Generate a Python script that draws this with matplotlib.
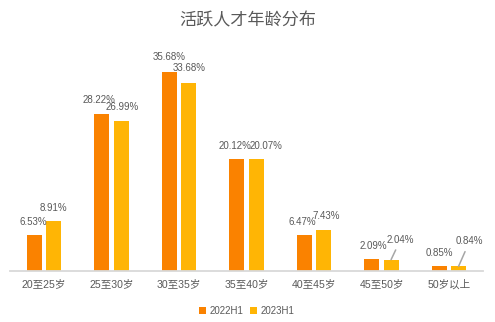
import matplotlib
matplotlib.use("Agg")
import matplotlib.pyplot as plt
import numpy as np

plt.rcParams['font.family'] = ['Liberation Sans', 'Noto Sans CJK SC', 'DejaVu Sans']

categories = ['20至25岁', '25至30岁', '30至35岁', '35至40岁', '40至45岁', '45至50岁', '50岁以上']
series_names = ['2022H1', '2023H1']
v2022 = [6.53, 28.22, 35.68, 20.12, 6.47, 2.09, 0.85]
v2023 = [8.91, 26.99, 33.68, 20.07, 7.43, 2.04, 0.84]
labels2022 = ['6.53%', '28.22%', '35.68%', '20.12%', '6.47%', '2.09%', '0.85%']
labels2023 = ['8.91%', '26.99%', '33.68%', '20.07%', '7.43%', '2.04%', '0.84%']

c_orange = '#FA8200'
c_yellow = '#FFB505'
txt = '#595959'

W, H = 495, 322
fig = plt.figure(figsize=(W / 100, H / 100), dpi=100)
ax = fig.add_axes([10.25 / W, 51 / H, 472.5 / W, 222.8 / H])

x = np.arange(len(categories))
bw = 0.222
off = 0.142
ax.bar(x - off, v2022, bw, color=c_orange, label=series_names[0], zorder=2)
ax.bar(x + off, v2023, bw, color=c_yellow, label=series_names[1], zorder=2)

ax.set_xlim(-0.5, len(categories) - 0.5)
ax.set_ylim(0, 40)
for s in ['top', 'right', 'left']:
    ax.spines[s].set_visible(False)
ax.spines['bottom'].set_color('#D9D9D9')
ax.spines['bottom'].set_linewidth(1.3)
ax.set_yticks([])
ax.set_xticks(x, categories)
ax.tick_params(axis='x', length=0, pad=6, labelsize=7.6, labelcolor=txt)

k = 0.72  # px -> pt
# label offsets in px (dx, dy) relative to bar top center
off22 = [(-1, 13), (-3, 14), (0, 15), (-2, 13), (-2, 13), (1, 13), (0, 13.5)]
off23 = [(0, 13.5), (1, 14), (1, 15), (10, 13), (3, 14), (9.5, 20), (11, 25)]
lead23 = [False, False, False, False, False, True, True]

for i in range(len(categories)):
    ax.annotate(labels2022[i], xy=(x[i] - off, v2022[i]),
                xytext=(off22[i][0] * k, off22[i][1] * k), textcoords='offset points',
                ha='center', va='center', fontsize=7, color=txt)
    ap = None
    if lead23[i]:
        ap = dict(arrowstyle='-', color='#A6A6A6', lw=1.1, shrinkA=2, shrinkB=0)
    ax.annotate(labels2023[i], xy=(x[i] + off, v2023[i]),
                xytext=(off23[i][0] * k, off23[i][1] * k), textcoords='offset points',
                ha='center', va='center', fontsize=7, color=txt, arrowprops=ap)

fig.text(0.5, 1 - 20 / H, '活跃人才年龄分布', ha='center', va='center',
         fontsize=12.3, color=txt)

fig.legend(loc='center', bbox_to_anchor=(0.498, 11 / H), ncol=2, frameon=False,
           fontsize=7, labelcolor=txt, handlelength=0.75, handleheight=0.75,
           handletextpad=0.35, columnspacing=0.7)

fig.savefig('out.png', dpi=100)
